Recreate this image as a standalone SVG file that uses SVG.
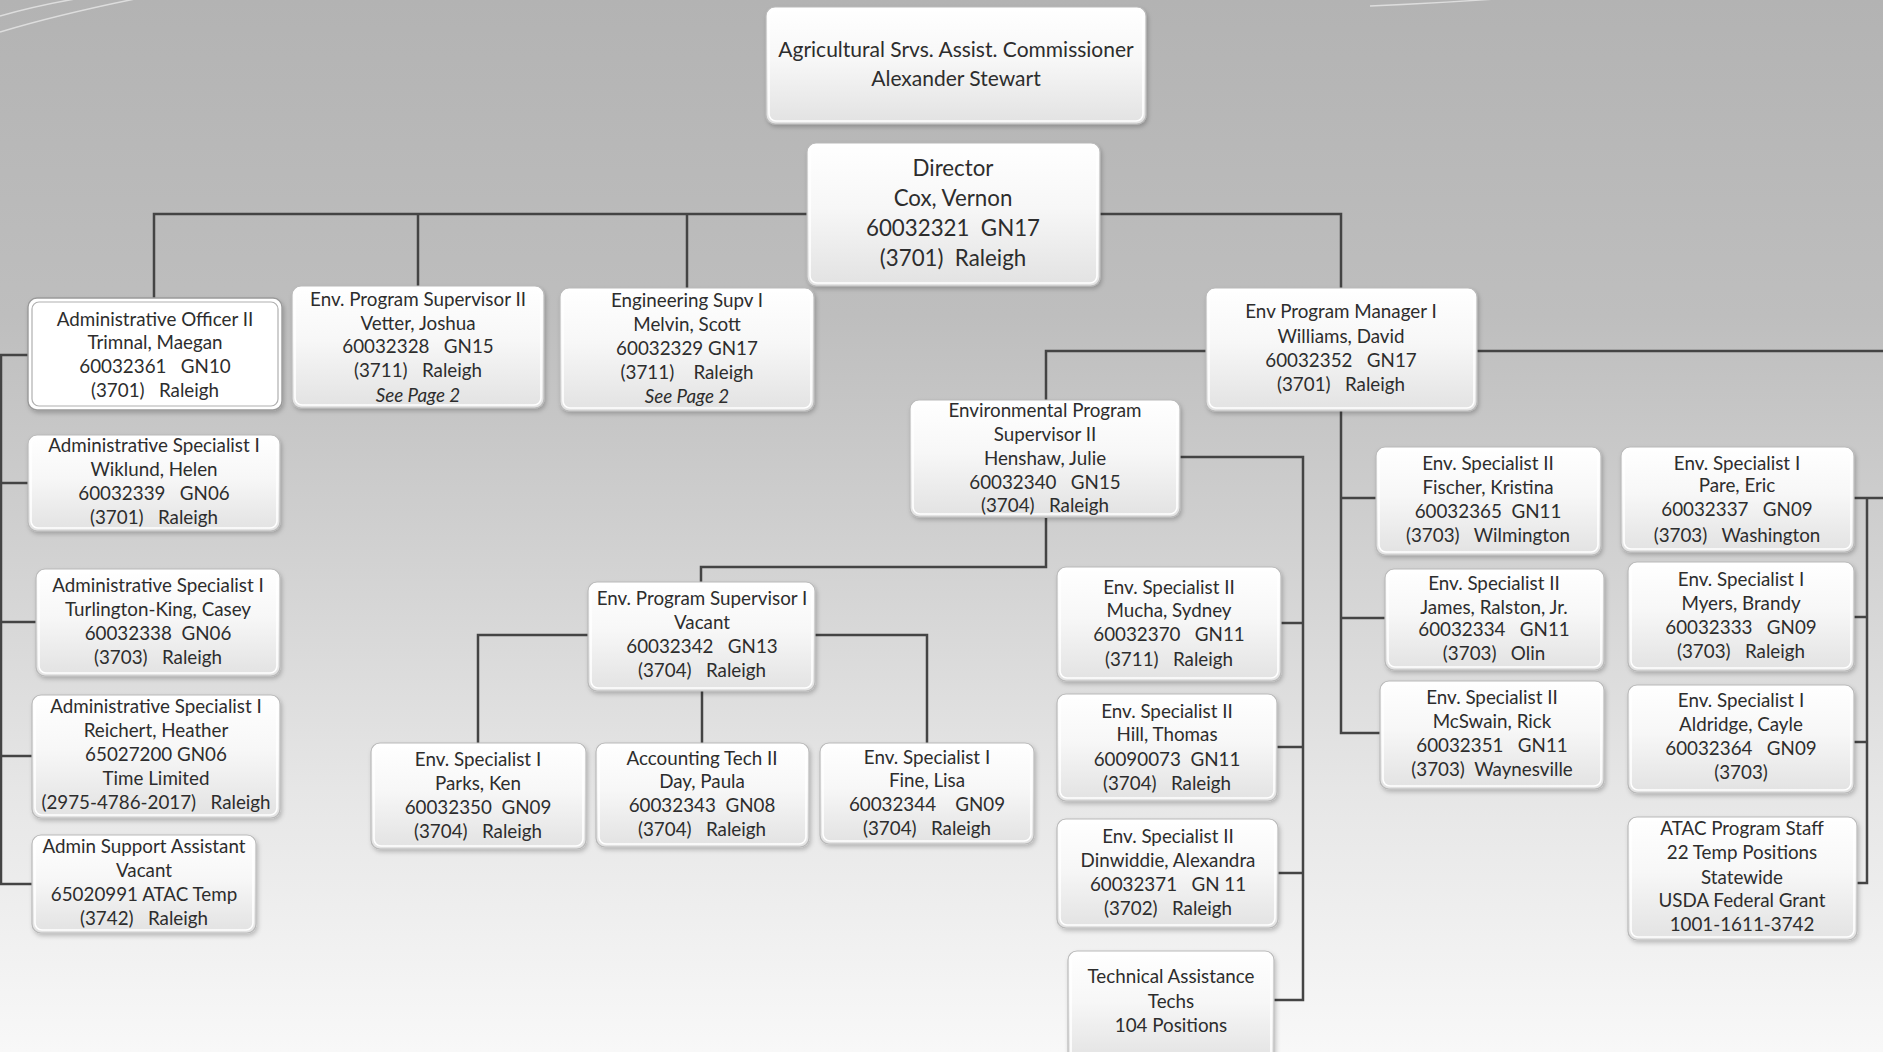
<svg xmlns="http://www.w3.org/2000/svg" width="1883" height="1052" viewBox="0 0 1883 1052">
<defs>
<linearGradient id="bg" x1="0" y1="0" x2="0" y2="1">
<stop offset="0" stop-color="#b3b3b3"/>
<stop offset="0.3" stop-color="#bebebe"/>
<stop offset="0.5" stop-color="#cfcfcf"/>
<stop offset="0.75" stop-color="#e6e6e6"/>
<stop offset="1" stop-color="#f8f8f8"/>
</linearGradient>
<linearGradient id="boxg" x1="0" y1="0" x2="0" y2="1">
<stop offset="0" stop-color="#ffffff"/>
<stop offset="0.45" stop-color="#f7f7f7"/>
<stop offset="1" stop-color="#e2e2e2"/>
</linearGradient>
<filter id="sh" x="-10%" y="-10%" width="125%" height="130%">
<feDropShadow dx="1.5" dy="2.5" stdDeviation="2" flood-color="#000" flood-opacity="0.22"/>
</filter>
</defs>
<style>
.box{fill:url(#boxg);stroke:#b9b9b9;stroke-width:1.2;filter:url(#sh)}
.hl{fill:#ffffff;stroke:#9a9a9a;stroke-width:1.4;filter:url(#sh)}
.in{fill:none;stroke:#ffffff;stroke-width:1.6}
.hlin{fill:none;stroke:#b0b0b0;stroke-width:1.2}
.t{font-family:Lato,"Liberation Sans",sans-serif;font-size:18.8px;fill:#2d2d2d;text-anchor:middle;white-space:pre}
.tc{font-family:Lato,"Liberation Sans",sans-serif;font-size:21px;fill:#2d2d2d;text-anchor:middle;white-space:pre}
.td{font-family:Lato,"Liberation Sans",sans-serif;font-size:22.3px;fill:#2d2d2d;text-anchor:middle;white-space:pre}
.it{font-style:italic}
.ln{fill:none;stroke:#444444;stroke-width:2.5}
.deco{fill:none;stroke:#ffffff;stroke-opacity:0.55;stroke-width:1.5}
</style>
<rect x="0" y="0" width="1883" height="1052" fill="url(#bg)"/>
<g id="decor">
<path class="deco" d="M0,16 Q35,6 75,-1"/>
<path class="deco" d="M0,32 Q60,14 140,-2"/>
<path class="deco" d="M1370,6 Q1440,3 1495,-1"/>
</g>
<g id="connectors">
<path class="ln" d="M154,299 V214 H807"/>
<path class="ln" d="M418,214 V286"/>
<path class="ln" d="M687,214 V288"/>
<path class="ln" d="M1100,214 H1341 V288"/>
<path class="ln" d="M28,355 H1 V884 H32"/>
<path class="ln" d="M1,483 H28"/>
<path class="ln" d="M1,622 H36"/>
<path class="ln" d="M1,756 H32"/>
<path class="ln" d="M1477,351 H1883"/>
<path class="ln" d="M1206,351 H1046 V400"/>
<path class="ln" d="M1341,411 V733 H1380"/>
<path class="ln" d="M1341,498 H1376"/>
<path class="ln" d="M1341,618 H1385"/>
<path class="ln" d="M1180,457 H1303 V1000 H1274"/>
<path class="ln" d="M1281,623 H1303"/>
<path class="ln" d="M1277,747 H1303"/>
<path class="ln" d="M1278,873 H1303"/>
<path class="ln" d="M1046,518 V567 H701 V582"/>
<path class="ln" d="M588,635 H478 V743"/>
<path class="ln" d="M815,635 H927 V743"/>
<path class="ln" d="M702,691 V743"/>
<path class="ln" d="M1854,498 H1883"/>
<path class="ln" d="M1867,498 V883 H1857"/>
<path class="ln" d="M1854,617 H1867"/>
<path class="ln" d="M1854,742 H1867"/>
</g>
<g id="n-commissioner">
<rect class="box" x="766" y="7" width="380" height="117" rx="9"/>
<rect class="in" x="769" y="10" width="374" height="111" rx="7"/>
<text class="tc" x="956" y="57">Agricultural Srvs. Assist. Commissioner</text>
<text class="tc" x="956" y="86">Alexander Stewart</text>
</g>
<g id="n-director">
<rect class="box" x="807" y="143" width="293" height="143" rx="9"/>
<rect class="in" x="810" y="146" width="287" height="137" rx="7"/>
<text class="td" x="953" y="176">Director</text>
<text class="td" x="953" y="206">Cox, Vernon</text>
<text class="td" x="953" y="236">60032321  GN17</text>
<text class="td" x="953" y="266">(3701)  Raleigh</text>
</g>
<g id="n-admin-officer">
<rect class="hl" x="28" y="298" width="254" height="112" rx="9"/>
<rect class="hlin" x="32" y="302" width="246" height="104" rx="7"/>
<text class="t" x="155" y="326">Administrative Officer II</text>
<text class="t" x="155" y="349">Trimnal, Maegan</text>
<text class="t" x="155" y="373">60032361   GN10</text>
<text class="t" x="155" y="397">(3701)   Raleigh</text>
</g>
<g id="n-vetter">
<rect class="box" x="292" y="286" width="252" height="122" rx="9"/>
<rect class="in" x="295" y="289" width="246" height="116" rx="7"/>
<text class="t" x="418" y="306">Env. Program Supervisor II</text>
<text class="t" x="418" y="330">Vetter, Joshua</text>
<text class="t" x="418" y="353">60032328   GN15</text>
<text class="t" x="418" y="377">(3711)   Raleigh</text>
<text class="t it" x="418" y="402">See Page 2</text>
</g>
<g id="n-engineering">
<rect class="box" x="560" y="288" width="254" height="123" rx="9"/>
<rect class="in" x="563" y="291" width="248" height="117" rx="7"/>
<text class="t" x="687" y="307">Engineering Supv I</text>
<text class="t" x="687" y="331">Melvin, Scott</text>
<text class="t" x="687" y="355">60032329 GN17</text>
<text class="t" x="687" y="379">(3711)    Raleigh</text>
<text class="t it" x="687" y="403">See Page 2</text>
</g>
<g id="n-env-pm">
<rect class="box" x="1206" y="288" width="271" height="123" rx="9"/>
<rect class="in" x="1209" y="291" width="265" height="117" rx="7"/>
<text class="t" x="1341" y="318">Env Program Manager I</text>
<text class="t" x="1341" y="343">Williams, David</text>
<text class="t" x="1341" y="367">60032352   GN17</text>
<text class="t" x="1341" y="391">(3701)   Raleigh</text>
</g>
<g id="n-henshaw">
<rect class="box" x="910" y="400" width="270" height="117" rx="9"/>
<rect class="in" x="913" y="403" width="264" height="111" rx="7"/>
<text class="t" x="1045" y="417">Environmental Program</text>
<text class="t" x="1045" y="441">Supervisor II</text>
<text class="t" x="1045" y="465">Henshaw, Julie</text>
<text class="t" x="1045" y="489">60032340   GN15</text>
<text class="t" x="1045" y="512">(3704)   Raleigh</text>
</g>
<g id="n-wiklund">
<rect class="box" x="28" y="435" width="252" height="96" rx="9"/>
<rect class="in" x="31" y="438" width="246" height="90" rx="7"/>
<text class="t" x="154" y="452">Administrative Specialist I</text>
<text class="t" x="154" y="476">Wiklund, Helen</text>
<text class="t" x="154" y="500">60032339   GN06</text>
<text class="t" x="154" y="524">(3701)   Raleigh</text>
</g>
<g id="n-turlington">
<rect class="box" x="36" y="569" width="244" height="107" rx="9"/>
<rect class="in" x="39" y="572" width="238" height="101" rx="7"/>
<text class="t" x="158" y="592">Administrative Specialist I</text>
<text class="t" x="158" y="616">Turlington-King, Casey</text>
<text class="t" x="158" y="640">60032338  GN06</text>
<text class="t" x="158" y="664">(3703)   Raleigh</text>
</g>
<g id="n-reichert">
<rect class="box" x="32" y="695" width="248" height="123" rx="9"/>
<rect class="in" x="35" y="698" width="242" height="117" rx="7"/>
<text class="t" x="156" y="713">Administrative Specialist I</text>
<text class="t" x="156" y="737">Reichert, Heather</text>
<text class="t" x="156" y="761">65027200 GN06</text>
<text class="t" x="156" y="785">Time Limited</text>
<text class="t" x="156" y="809">(2975-4786-2017)   Raleigh</text>
</g>
<g id="n-admin-support">
<rect class="box" x="32" y="835" width="224" height="98" rx="9"/>
<rect class="in" x="35" y="838" width="218" height="92" rx="7"/>
<text class="t" x="144" y="853">Admin Support Assistant</text>
<text class="t" x="144" y="877">Vacant</text>
<text class="t" x="144" y="901">65020991 ATAC Temp</text>
<text class="t" x="144" y="925">(3742)   Raleigh</text>
</g>
<g id="n-eps1">
<rect class="box" x="588" y="582" width="227" height="109" rx="9"/>
<rect class="in" x="591" y="585" width="221" height="103" rx="7"/>
<text class="t" x="702" y="605">Env. Program Supervisor I</text>
<text class="t" x="702" y="629">Vacant</text>
<text class="t" x="702" y="653">60032342   GN13</text>
<text class="t" x="702" y="677">(3704)   Raleigh</text>
</g>
<g id="n-parks">
<rect class="box" x="371" y="743" width="215" height="106" rx="9"/>
<rect class="in" x="374" y="746" width="209" height="100" rx="7"/>
<text class="t" x="478" y="766">Env. Specialist I</text>
<text class="t" x="478" y="790">Parks, Ken</text>
<text class="t" x="478" y="814">60032350  GN09</text>
<text class="t" x="478" y="838">(3704)   Raleigh</text>
</g>
<g id="n-day">
<rect class="box" x="596" y="743" width="213" height="104" rx="9"/>
<rect class="in" x="599" y="746" width="207" height="98" rx="7"/>
<text class="t" x="702" y="765">Accounting Tech II</text>
<text class="t" x="702" y="788">Day, Paula</text>
<text class="t" x="702" y="812">60032343  GN08</text>
<text class="t" x="702" y="836">(3704)   Raleigh</text>
</g>
<g id="n-fine">
<rect class="box" x="820" y="743" width="214" height="101" rx="9"/>
<rect class="in" x="823" y="746" width="208" height="95" rx="7"/>
<text class="t" x="927" y="764">Env. Specialist I</text>
<text class="t" x="927" y="787">Fine, Lisa</text>
<text class="t" x="927" y="811">60032344    GN09</text>
<text class="t" x="927" y="835">(3704)   Raleigh</text>
</g>
<g id="n-mucha">
<rect class="box" x="1057" y="567" width="224" height="114" rx="9"/>
<rect class="in" x="1060" y="570" width="218" height="108" rx="7"/>
<text class="t" x="1169" y="594">Env. Specialist II</text>
<text class="t" x="1169" y="617">Mucha, Sydney</text>
<text class="t" x="1169" y="641">60032370   GN11</text>
<text class="t" x="1169" y="666">(3711)   Raleigh</text>
</g>
<g id="n-hill">
<rect class="box" x="1057" y="694" width="220" height="107" rx="9"/>
<rect class="in" x="1060" y="697" width="214" height="101" rx="7"/>
<text class="t" x="1167" y="718">Env. Specialist II</text>
<text class="t" x="1167" y="741">Hill, Thomas</text>
<text class="t" x="1167" y="766">60090073  GN11</text>
<text class="t" x="1167" y="790">(3704)   Raleigh</text>
</g>
<g id="n-dinwiddie">
<rect class="box" x="1057" y="819" width="221" height="109" rx="9"/>
<rect class="in" x="1060" y="822" width="215" height="103" rx="7"/>
<text class="t" x="1168" y="843">Env. Specialist II</text>
<text class="t" x="1168" y="867">Dinwiddie, Alexandra</text>
<text class="t" x="1168" y="891">60032371   GN 11</text>
<text class="t" x="1168" y="915">(3702)   Raleigh</text>
</g>
<g id="n-tech">
<rect class="box" x="1068" y="951" width="206" height="112" rx="9"/>
<rect class="in" x="1071" y="954" width="200" height="106" rx="7"/>
<text class="t" x="1171" y="983">Technical Assistance</text>
<text class="t" x="1171" y="1008">Techs</text>
<text class="t" x="1171" y="1032">104 Positions</text>
</g>
<g id="n-fischer">
<rect class="box" x="1376" y="447" width="225" height="108" rx="9"/>
<rect class="in" x="1379" y="450" width="219" height="102" rx="7"/>
<text class="t" x="1488" y="470">Env. Specialist II</text>
<text class="t" x="1488" y="494">Fischer, Kristina</text>
<text class="t" x="1488" y="518">60032365  GN11</text>
<text class="t" x="1488" y="542">(3703)   Wilmington</text>
</g>
<g id="n-james">
<rect class="box" x="1385" y="569" width="219" height="101" rx="9"/>
<rect class="in" x="1388" y="572" width="213" height="95" rx="7"/>
<text class="t" x="1494" y="590">Env. Specialist II</text>
<text class="t" x="1494" y="614">James, Ralston, Jr.</text>
<text class="t" x="1494" y="636">60032334   GN11</text>
<text class="t" x="1494" y="660">(3703)   Olin</text>
</g>
<g id="n-mcswain">
<rect class="box" x="1380" y="681" width="224" height="108" rx="9"/>
<rect class="in" x="1383" y="684" width="218" height="102" rx="7"/>
<text class="t" x="1492" y="704">Env. Specialist II</text>
<text class="t" x="1492" y="728">McSwain, Rick</text>
<text class="t" x="1492" y="752">60032351   GN11</text>
<text class="t" x="1492" y="776">(3703)  Waynesville</text>
</g>
<g id="n-pare">
<rect class="box" x="1621" y="447" width="233" height="105" rx="9"/>
<rect class="in" x="1624" y="450" width="227" height="99" rx="7"/>
<text class="t" x="1737" y="470">Env. Specialist I</text>
<text class="t" x="1737" y="492">Pare, Eric</text>
<text class="t" x="1737" y="516">60032337   GN09</text>
<text class="t" x="1737" y="542">(3703)   Washington</text>
</g>
<g id="n-myers">
<rect class="box" x="1628" y="562" width="226" height="109" rx="9"/>
<rect class="in" x="1631" y="565" width="220" height="103" rx="7"/>
<text class="t" x="1741" y="586">Env. Specialist I</text>
<text class="t" x="1741" y="610">Myers, Brandy</text>
<text class="t" x="1741" y="634">60032333   GN09</text>
<text class="t" x="1741" y="658">(3703)   Raleigh</text>
</g>
<g id="n-aldridge">
<rect class="box" x="1628" y="685" width="226" height="108" rx="9"/>
<rect class="in" x="1631" y="688" width="220" height="102" rx="7"/>
<text class="t" x="1741" y="707">Env. Specialist I</text>
<text class="t" x="1741" y="731">Aldridge, Cayle</text>
<text class="t" x="1741" y="755">60032364   GN09</text>
<text class="t" x="1741" y="779">(3703)</text>
</g>
<g id="n-atac">
<rect class="box" x="1628" y="817" width="229" height="123" rx="9"/>
<rect class="in" x="1631" y="820" width="223" height="117" rx="7"/>
<text class="t" x="1742" y="835">ATAC Program Staff</text>
<text class="t" x="1742" y="859">22 Temp Positions</text>
<text class="t" x="1742" y="884">Statewide</text>
<text class="t" x="1742" y="907">USDA Federal Grant</text>
<text class="t" x="1742" y="931">1001-1611-3742</text>
</g>
</svg>
